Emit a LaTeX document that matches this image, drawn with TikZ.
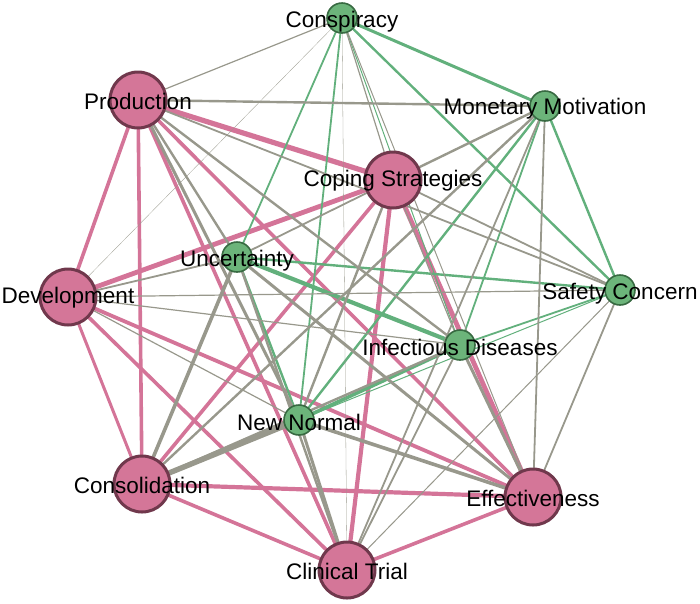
\documentclass[tikz,border=0pt]{standalone}
\usepackage{fontspec}
\setmainfont{Liberation Sans}
\pgfdeclarelayer{background}
\pgfsetlayers{background,main}
\definecolor{rosa}{RGB}{212,118,152}
\definecolor{rosarand}{RGB}{112,56,76}
\definecolor{gruen}{RGB}{108,180,122}
\definecolor{gruenrand}{RGB}{56,106,66}
\definecolor{rosalinie}{RGB}{212,116,152}
\definecolor{gruenlinie}{RGB}{98,176,124}
\definecolor{grau}{RGB}{152,152,140}
\tikzset{
  bigknoten/.style={circle, fill=rosa, draw=rosarand, line width=3pt, minimum size=56pt, inner sep=0pt},
  smallknoten/.style={circle, fill=gruen, draw=gruenrand, line width=1.6pt, minimum size=30pt, inner sep=0pt},
  beschriftung/.style={font=\fontsize{22.5}{26}\selectfont, inner sep=0pt},
  rosakante/.style={rosalinie, line cap=round},
  gruenkante/.style={gruenlinie, line cap=round},
  graukante/.style={grau, line cap=round}
}
\begin{document}
\begin{tikzpicture}[x=1pt, y=-1pt]
		\useasboundingbox (0,0) rectangle (700,603);

		% zeichne Knoten
		\node[bigknoten] (prod) at (138,100) {};
		\node[bigknoten] (cope) at (393,180) {};
		\node[bigknoten] (dev) at (68,297) {};
		\node[bigknoten] (cons) at (142,484) {};
		\node[bigknoten] (eff) at (533,497) {};
		\node[bigknoten] (trial) at (347,570) {};
		\node[smallknoten] (consp) at (342,18) {};
		\node[smallknoten] (money) at (545,106) {};
		\node[smallknoten] (unc) at (237,257) {};
		\node[smallknoten] (safety) at (620,290) {};
		\node[smallknoten] (infect) at (460,345) {};
		\node[smallknoten] (newn) at (299,420) {};

		% zeichne Kanten
		\begin{pgfonlayer}{background}
		\foreach \a/\b/\w in {prod/dev/3.6, prod/cons/3.6, prod/cope/5.2, prod/trial/3.6, prod/eff/3.6,
				dev/cope/4.8, dev/cons/3, dev/trial/3.6, dev/eff/3.8, cope/cons/3.6,
				cope/trial/4.2, cope/eff/4.8, cons/eff/4.2, cons/trial/3.6, trial/eff/3.6}
			\draw[rosakante, line width=\w pt] (\a) -- (\b);
		\foreach \a/\b/\w in {consp/money/3, consp/safety/2.4, consp/unc/1.8, consp/newn/1.8,
				consp/infect/1, money/safety/2.4, money/infect/1.8, money/newn/2.4,
				unc/safety/2.4, unc/infect/4.2, unc/newn/2.4, safety/infect/1.8,
				safety/newn/1, infect/newn/3.6}
			\draw[gruenkante, line width=\w pt] (\a) -- (\b);
		\foreach \a/\b/\w in {prod/consp/1.2, prod/money/2.4, prod/unc/2.4, prod/safety/1.8,
				prod/infect/2.4, prod/newn/3,
				cope/consp/1.2, cope/money/2.4, cope/unc/1.8, cope/safety/1.8,
				cope/infect/1.2, cope/newn/2.4,
				dev/consp/0.3, dev/unc/1.8, dev/safety/1.2, dev/infect/1.2, dev/newn/1.2,
				cons/unc/3.6, cons/newn/5.4, cons/infect/2.4, cons/money/2.4,
				eff/safety/1.8, eff/money/1.8, eff/infect/3, eff/newn/3.6,
				eff/unc/3, eff/consp/1,
				trial/newn/3, trial/unc/2.4, trial/infect/1.8, trial/money/1.8,
				trial/safety/1, trial/consp/0.3}
			\draw[graukante, line width=\w pt] (\a) -- (\b);
		\end{pgfonlayer}

		% zeichne Labels
		\node[beschriftung] at ([yshift=-1pt]prod) {Production};
		\node[beschriftung] at ([yshift=-1pt]cope) {Coping Strategies};
		\node[beschriftung] at ([yshift=-1pt]dev) {Development};
		\node[beschriftung] at ([yshift=-1pt]cons) {Consolidation};
		\node[beschriftung] at ([yshift=-1pt]eff) {Effectiveness};
		\node[beschriftung] at ([yshift=-1pt]trial) {Clinical Trial};
		\node[beschriftung] at ([yshift=-4pt]consp) {Conspiracy};
		\node[beschriftung] at ([yshift=-3pt]money) {Monetary Motivation};
		\node[beschriftung] at ([yshift=-4pt]unc) {Uncertainty};
		\node[beschriftung] at ([yshift=-4pt]safety) {Safety Concern};
		\node[beschriftung] at ([yshift=-2pt]infect) {Infectious Diseases};
		\node[beschriftung] at ([yshift=-2pt]newn) {New Normal};
	\end{tikzpicture}
\end{document}
